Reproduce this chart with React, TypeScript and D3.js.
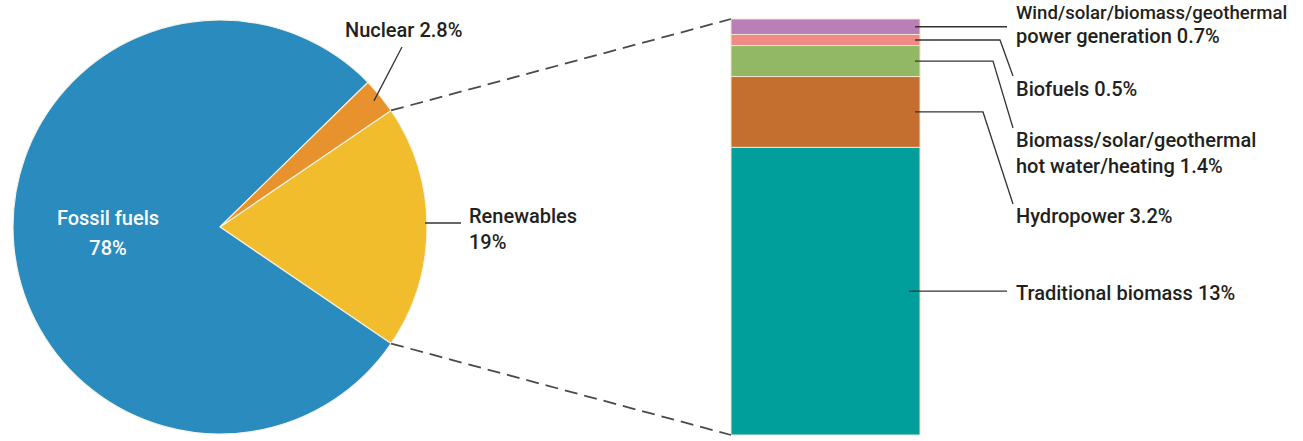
import React, { useRef, useEffect } from 'react'
import * as d3 from 'd3'

// pie: share of global final energy consumption
const pieLabels = ['Renewables', 'Fossil fuels', 'Nuclear']
const pieValues = [19, 78, 2.8]
const pieColors = ['#f2bd2c', '#2a8bbf', '#e8922e']

// renewables breakdown, stacked from bottom to top
const barLabels = [
  ['Traditional biomass 13%'],
  ['Hydropower 3.2%'],
  ['Biomass/solar/geothermal', 'hot water/heating 1.4%'],
  ['Biofuels 0.5%'],
  ['Wind/solar/biomass/geothermal', 'power generation 0.7%'],
]
const barValues = [13, 3.2, 1.4, 0.5, 0.7]
const barColors = ['#009f9c', '#c46e2f', '#92b865', '#ef8a84', '#b87fb8']

const font = 'Roboto, "Liberation Sans", sans-serif'

const EnergyShareChart = () => {
  const ref = useRef<HTMLDivElement>(null)

  const build = ({
    width = 1303,
    height = 441,
    cx = 220, // pie centre
    cy = 227,
    radius = 207,
    barX = [731, 920],
    barY = [435, 19],
    textX = 1016,
  } = {}) => {
    const svg = d3.create('svg')
      .attr('width', width)
      .attr('height', height)
      .attr('viewBox', [0, 0, width, height])
      .style('font-family', font)
      .style('font-weight', 500)
      .style('font-size', '20px')

    // pie, renewables centred on 3 o'clock
    const total = d3.sum(pieValues)
    const renSpan = (pieValues[0] / total) * 2 * Math.PI
    const start = Math.PI / 2 - renSpan / 2
    const pie = d3.pie<number>().sort(null).startAngle(start).endAngle(start + 2 * Math.PI)
    const arcs = pie(pieValues)
    const arc = d3.arc<d3.PieArcDatum<number>>().innerRadius(0).outerRadius(radius)
    const polar = (a: number, r: number) => [cx + r * Math.sin(a), cy - r * Math.cos(a)]

    const pieG = svg.append('g').attr('transform', `translate(${cx},${cy})`)
    pieG.selectAll('path')
      .data(arcs)
      .join('path')
      .attr('d', arc)
      .attr('fill', (d, i) => pieColors[i])
      .attr('stroke', '#f4f1e6')
      .attr('stroke-width', 1.2)

    // stacked bar
    const y = d3.scaleLinear([0, d3.sum(barValues)], barY)
    const cum = d3.cumsum(barValues)
    const segs = barValues.map((v, i) => ({ v, y0: cum[i] - v, y1: cum[i], i }))

    svg.append('g')
      .selectAll('rect')
      .data(segs)
      .join('rect')
      .attr('x', barX[0])
      .attr('width', barX[1] - barX[0])
      .attr('y', d => y(d.y1))
      .attr('height', d => y(d.y0) - y(d.y1))
      .attr('fill', d => barColors[d.i])
      .attr('stroke', '#f1e6cc')
      .attr('stroke-width', 1)

    // dashed zoom lines from renewables slice to bar
    const ren = arcs[0]
    const pTop = polar(ren.startAngle, radius)
    const pBot = polar(ren.endAngle, radius)
    svg.append('g')
      .attr('stroke', '#4a4a4a')
      .attr('stroke-width', 1.8)
      .attr('stroke-dasharray', '13 7')
      .call(g => g.append('line')
        .attr('x1', pTop[0]).attr('y1', pTop[1])
        .attr('x2', barX[0]).attr('y2', y(d3.sum(barValues))))
      .call(g => g.append('line')
        .attr('x1', pBot[0]).attr('y1', pBot[1])
        .attr('x2', barX[0]).attr('y2', y(0)))

    const leaders = svg.append('g').attr('fill', 'none').attr('stroke', '#333').attr('stroke-width', 1.3)
    const texts = svg.append('g').attr('fill', '#231f20')

    // pie labels
    const nuc = arcs[2]
    const nucMid = (nuc.startAngle + nuc.endAngle) / 2
    const nucP = polar(nucMid, radius - 8)
    leaders.append('path').attr('d', d3.line()([[402, 47], [nucP[0], nucP[1]]]))
    texts.append('text').attr('x', 345).attr('y', 37).text(`${pieLabels[2]} ${pieValues[2]}%`)

    leaders.append('path').attr('d', d3.line()([[cx + radius - 2, 223], [461, 223]]))
    texts.append('text').attr('x', 469).attr('y', 223).text(pieLabels[0])
    texts.append('text').attr('x', 469).attr('y', 249).text(`${pieValues[0]}%`)

    texts.append('text').attr('x', 108).attr('y', 225).attr('text-anchor', 'middle')
      .attr('fill', '#ffffff').text(pieLabels[1])
    texts.append('text').attr('x', 108).attr('y', 255).attr('text-anchor', 'middle')
      .attr('fill', '#ffffff').text(`${pieValues[1]}%`)

    // bar labels: elbow x, end point, baselines
    const layout = [
      { x0: 909, elbow: null, end: [1007, null], base: [300] },
      { x0: 915, elbow: 983, end: [1013, 204], base: [223] },
      { x0: 915, elbow: 993, end: [1013, 128], base: [147, 173] },
      { x0: 915, elbow: 1000, end: [1013, 76], base: [96] },
      { x0: 915, elbow: null, end: [1007, null], base: [19, 43] },
    ]
    segs.forEach((d, i) => {
      const L = layout[i]
      const ym = y((d.y0 + d.y1) / 2)
      const pts: [number, number][] = [[L.x0, ym]]
      if (L.elbow != null) {
        pts.push([L.elbow, ym])
        pts.push([L.end[0], L.end[1] as number])
      } else {
        pts.push([L.end[0], ym])
      }
      leaders.append('path').attr('d', d3.line()(pts))
      barLabels[i].forEach((t, k) => {
        const txt = texts.append('text').attr('x', textX).attr('y', L.base[k]).text(t)
        // the long first line is set a bit smaller so it fits the page
        if (t.length > 26) txt.style('font-size', '18.6px')
      })
    })

    return svg.node()
  }

  useEffect(() => {
    if (ref.current) {
      ref.current.innerHTML = ''
      ref.current.appendChild(build() as SVGSVGElement)
    }
  }, [])

  return <div ref={ref} style={{ position: 'absolute', left: 0, top: 0 }}></div>
}

export default function App() {
  return <EnergyShareChart />
}
